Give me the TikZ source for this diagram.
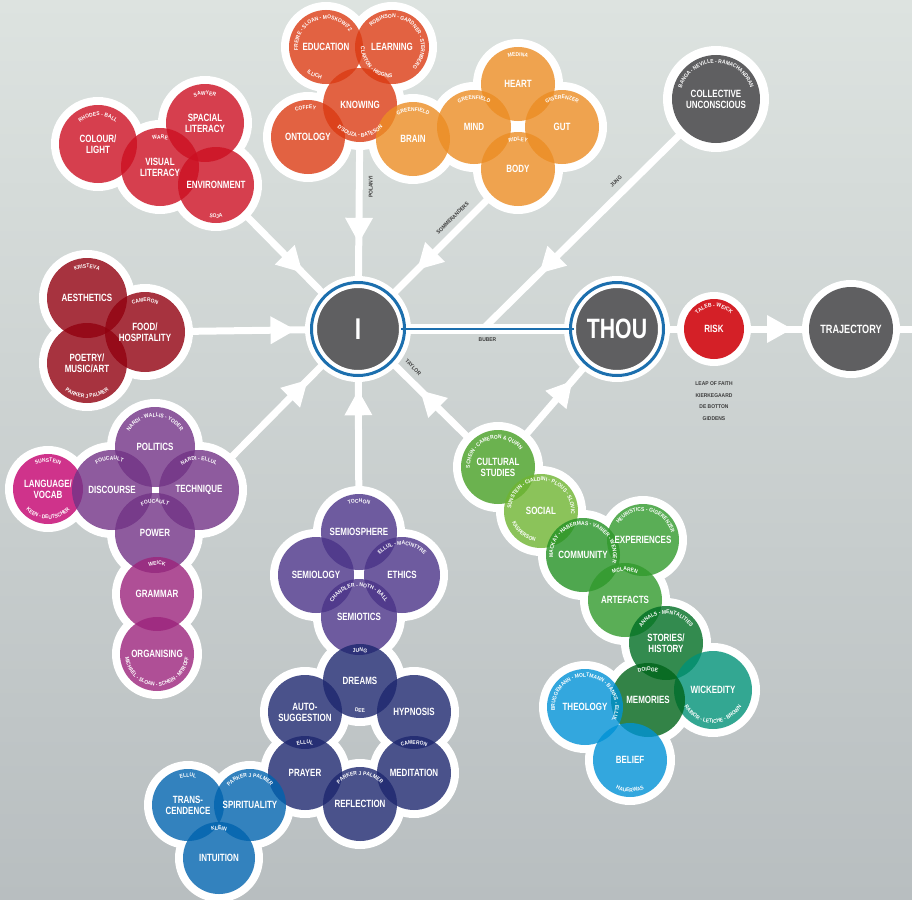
\documentclass[tikz,border=0pt]{standalone}
\usepackage{fontspec}
\newfontfamily\condfont{Liberation Sans}[FakeStretch=0.76]
\newfontfamily\notefont{Liberation Sans}[FakeStretch=0.9]
\usetikzlibrary{decorations.markings,decorations.text,arrows.meta}

\definecolor{bgtop}{HTML}{DDE3E0}
\definecolor{bgbot}{HTML}{B8BEC0}
\definecolor{coregray}{HTML}{5F5F61}
\definecolor{ringblue}{HTML}{1C6FAE}
\definecolor{riskred}{HTML}{D42027}
\definecolor{notegray}{HTML}{3C3C3C}
\definecolor{redA}{HTML}{CC1022}
\definecolor{redB}{HTML}{920110}
\definecolor{orangeA}{HTML}{DB3B13}
\definecolor{orangeB}{HTML}{EC8D24}
\definecolor{purpleA}{HTML}{723386}
\definecolor{plum}{HTML}{9C247C}
\definecolor{magenta}{HTML}{C4016F}
\definecolor{violet}{HTML}{4A3388}
\definecolor{navy}{HTML}{1D276F}
\definecolor{blueA}{HTML}{0063AE}
\definecolor{blueB}{HTML}{0092D6}
\definecolor{greenA}{HTML}{479F24}
\definecolor{greenB}{HTML}{6FB531}
\definecolor{greenC}{HTML}{249224}
\definecolor{greenD}{HTML}{319A2C}
\definecolor{greenE}{HTML}{006F24}
\definecolor{greenF}{HTML}{00651A}
\definecolor{teal}{HTML}{009277}

\pgfdeclarelayer{bg}
\pgfdeclarelayer{halo}
\pgfdeclarelayer{fills}
\pgfsetlayers{bg,halo,fills,main}

\newcommand{\bubfont}{\condfont\bfseries\fontsize{10.5}{11}\selectfont}
\newcommand{\notesize}{\notefont\bfseries\fontsize{5.5}{11.6}\selectfont}

% one bubble: name, x, y, radius, colour, text
\newcommand{\bubble}[6]{%
  \begin{pgfonlayer}{halo}\fill[white] (#2,#3) circle[radius=#4+8];\end{pgfonlayer}
  \begin{pgfonlayer}{fills}\fill[#5,fill opacity=0.8] (#2,#3) circle[radius=#4];\end{pgfonlayer}
  \node[bubtext,minimum size=2*#4] (#1) at (#2,#3) {#6};}

% curved names: node, radius, start angle, end angle, text
\newcommand{\arcnote}[5]{%
  \path[decorate,decoration={text along path,text align=center,text color=white,
    text={|\notesize|#5}}] (#1.center) ++(#3:#2) arc[start angle=#3,end angle=#4,radius=#2];}

\begin{document}
\begin{tikzpicture}
[x=1pt,y=1pt,
 bubtext/.style={circle,inner sep=0pt,text=white,font=\bubfont,align=center},
 core/.style={circle,inner sep=0pt,fill=coregray,text=white,align=center},
 note/.style={font=\notesize,text=notegray,inner sep=1pt,align=center},
 feed/.style={white,line width=7pt,postaction={decorate,decoration={markings,
   mark=at position #1 with {\arrow{Triangle[width=28pt,length=25pt,line width=0pt]}}}}}]

\useasboundingbox (0,0) rectangle (912,-899);
\begin{pgfonlayer}{bg}
\fill[top color=bgtop,bottom color=bgbot] (0,0) rectangle (912,-899);
\end{pgfonlayer}

% centre line
\node[core,draw=white,line width=2pt,minimum size=84pt,
  font=\condfont\bfseries\fontsize{30}{30}\selectfont] (I) at (358,-329) {I};
\node[core,draw=white,line width=2pt,minimum size=84pt,
  font=\condfont\bfseries\fontsize{28}{28}\selectfont] (THOU) at (617,-329) {THOU};
\node[core,fill=riskred,minimum size=60pt,font=\bubfont] (risk) at (714,-329) {RISK};
\node[core,minimum size=84pt,font=\condfont\bfseries\fontsize{12}{12}\selectfont]
  (trajectory) at (851,-329) {TRAJECTORY};
\node[core,minimum size=88pt,font=\bubfont] (collective) at (716,-99) {COLLECTIVE\\UNCONSCIOUS};
\coordinate (jungfoot) at (483,-329);
\coordinate (exit) at (912,-329);
\draw[ringblue,line width=3pt] (I.center) circle[radius=46.5];
\draw[ringblue,line width=3pt] (THOU.center) circle[radius=46.5];
\node[note] (leap) at (714,-401) {LEAP OF FAITH\\KIERKEGAARD\\DE BOTTON\\GIDDENS};

% visual
\bubble{colour}{98}{-144}{39}{redA}{COLOUR/\\LIGHT}
\bubble{spacial}{205}{-123}{39}{redA}{SPACIAL\\LITERACY}
\bubble{visual}{160}{-167}{39}{redA}{VISUAL\\LITERACY}
\bubble{environment}{216}{-185}{38}{redA}{ENVIRONMENT}
% knowing
\bubble{education}{326}{-47}{37}{orangeA}{EDUCATION}
\bubble{learning}{392}{-47}{37}{orangeA}{LEARNING}
\bubble{knowing}{360}{-105}{37}{orangeA}{KNOWING}
\bubble{ontology}{308}{-137}{37}{orangeA}{ONTOLOGY}
% body
\bubble{brain}{413}{-139}{37}{orangeB}{BRAIN}
\bubble{mind}{474}{-127}{37}{orangeB}{MIND}
\bubble{heart}{518}{-84}{37}{orangeB}{HEART}
\bubble{gut}{562}{-127}{37}{orangeB}{GUT}
\bubble{body}{518}{-169}{37}{orangeB}{BODY}
% aesthetics
\bubble{aesthetics}{87}{-298}{40}{redB}{AESTHETICS}
\bubble{food}{145}{-332}{40}{redB}{FOOD/\\HOSPITALITY}
\bubble{poetry}{87}{-363}{40}{redB}{POETRY/\\MUSIC/ART}
% politics
\bubble{language}{48}{-489}{35}{magenta}{LANGUAGE/\\VOCAB}
\bubble{politics}{155}{-447}{40}{purpleA}{POLITICS}
\bubble{discourse}{112}{-490}{40}{purpleA}{DISCOURSE}
\bubble{technique}{199}{-490}{40}{purpleA}{TECHNIQUE}
\bubble{power}{155}{-533}{40}{purpleA}{POWER}
\bubble{grammar}{157}{-594}{37}{plum}{GRAMMAR}
\bubble{organising}{157}{-654}{37}{plum}{ORGANISING}
% semiotics
\bubble{semiosphere}{359}{-532}{38}{violet}{SEMIOSPHERE}
\bubble{semiology}{316}{-575}{38}{violet}{SEMIOLOGY}
\bubble{ethics}{402}{-575}{38}{violet}{ETHICS}
\bubble{semiotics}{359}{-617}{38}{violet}{SEMIOTICS}
% dreams
\bubble{dreams}{360}{-681}{37}{navy}{DREAMS}
\bubble{autosugg}{305}{-712}{37}{navy}{AUTO-\\SUGGESTION}
\bubble{hypnosis}{414}{-712}{37}{navy}{HYPNOSIS}
\bubble{prayer}{305}{-773}{37}{navy}{PRAYER}
\bubble{meditation}{414}{-773}{37}{navy}{MEDITATION}
\bubble{reflection}{360}{-804}{37}{navy}{REFLECTION}
% spirituality
\bubble{trans}{188}{-805}{36}{blueA}{TRANS-\\CENDENCE}
\bubble{spirit}{250}{-805}{36}{blueA}{SPIRITUALITY}
\bubble{intuition}{219}{-858}{36}{blueA}{INTUITION}
% culture
\bubble{cultural}{498}{-467}{37}{greenA}{CULTURAL\\STUDIES}
\bubble{social}{541}{-511}{37}{greenB}{SOCIAL}
\bubble{community}{583}{-555}{37}{greenC}{COMMUNITY}
\bubble{experiences}{643}{-540}{36}{greenD}{EXPERIENCES}
\bubble{artefacts}{625}{-600}{37}{greenD}{ARTEFACTS}
\bubble{stories}{666}{-643}{37}{greenE}{STORIES/\\HISTORY}
\bubble{wickedity}{713}{-690}{39}{teal}{WICKEDITY}
\bubble{memories}{648}{-700}{37}{greenF}{MEMORIES}
\bubble{theology}{585}{-707}{38}{blueB}{THEOLOGY}
\bubble{belief}{630}{-760}{37}{blueB}{BELIEF}

% names round the bubbles
\arcnote{colour}{28}{170}{10}{RHODES - BALL}
\arcnote{spacial}{28}{150}{30}{SAWYER}
\arcnote{visual}{28}{150}{30}{WARE}
\arcnote{environment}{33}{230}{310}{SOJA}
\arcnote{education}{28}{200}{20}{FREIRE - SLOAN - MOSKOWITZ}
\arcnote{education}{32}{220}{275}{ILLICH}
\arcnote{learning}{29}{140}{-50}{ROBINSON - GARDNER - STERNBERG}
\arcnote{learning}{31}{150}{300}{CLAXTON - HIGGINS}
\arcnote{knowing}{32}{205}{335}{D'SOUZA - BATESON}
\arcnote{ontology}{28}{140}{50}{COFFEY}
\arcnote{brain}{28}{150}{30}{GREENFIELD}
\arcnote{mind}{28}{150}{30}{GREENFIELD}
\arcnote{heart}{28}{150}{30}{MEDINA}
\arcnote{gut}{28}{150}{30}{GIGERENZER}
\arcnote{body}{28}{150}{30}{RIDLEY}
\arcnote{collective}{36}{185}{-5}{BANGA - NEVILLE - RAMACHANDRAN}
\arcnote{aesthetics}{30}{150}{30}{KRISTEVA}
\arcnote{food}{30}{150}{30}{CAMERON}
\arcnote{poetry}{35}{205}{335}{PARKER J PALMER}
\arcnote{politics}{30}{165}{15}{NARDI - WALLIS - YODER}
\arcnote{discourse}{30}{140}{50}{FOUCAULT}
\arcnote{technique}{30}{150}{30}{NARDI - ELLUL}
\arcnote{power}{30}{150}{30}{FOUCAULT}
\arcnote{grammar}{29}{150}{30}{WEICK}
\arcnote{organising}{32}{165}{375}{MICHAEL - SLOAN - SCHEIN - MITROFF}
\arcnote{language}{27}{150}{30}{SUNSTEIN}
\arcnote{language}{30}{200}{340}{KEEN - DEUTSCHER}
\arcnote{semiosphere}{29}{150}{30}{TOCHON}
\arcnote{ethics}{30}{160}{20}{ELLUL - MACINTYRE}
\arcnote{semiotics}{30}{175}{5}{CHANDLER - NOTH - BALL}
\arcnote{dreams}{29}{150}{30}{JUNG}
\arcnote{dreams}{31}{240}{300}{DEE}
\arcnote{prayer}{29}{150}{30}{ELLUL}
\arcnote{meditation}{29}{150}{30}{CAMERON}
\arcnote{reflection}{29}{165}{15}{PARKER J PALMER}
\arcnote{trans}{28}{150}{30}{ELLUL}
\arcnote{spirit}{28}{165}{15}{PARKER J PALMER}
\arcnote{intuition}{28}{150}{30}{KLEIN}
\arcnote{cultural}{28}{200}{20}{SCHEIN - CAMERON {\&} QUINN}
\arcnote{social}{30}{210}{-40}{SUNSTEIN - CIALDINI - PLOUS - SLOVIC}
\arcnote{social}{31}{190}{270}{KASPERSON}
\arcnote{community}{30}{215}{-45}{MACKAY - HABERMAS - VANIER - WENGER}
\arcnote{experiences}{29}{170}{-10}{HEURISTICS - GIGERENZER}
\arcnote{artefacts}{29}{150}{30}{MCLAREN}
\arcnote{stories}{29}{175}{5}{ANNALS - MENTALITIES}
\arcnote{wickedity}{33}{170}{370}{RAINOR - LETICHE - BROWN}
\arcnote{memories}{29}{150}{30}{DOIDGE}
\arcnote{theology}{30}{220}{-60}{BRUGGEMANN - MOLTMANN - BANKS - ELLUL}
\arcnote{belief}{32}{230}{310}{HAUERWAS}
\arcnote{risk}{22}{150}{30}{TALEB - WEICK}

% halos and connectors
\begin{pgfonlayer}{halo}
\fill[white] (I.center) circle[radius=53];
\fill[white] (THOU.center) circle[radius=53];
\fill[white] (risk.center) circle[radius=37];
\fill[white] (trajectory.center) circle[radius=49];
\fill[white] (collective.center) circle[radius=53];
\draw[feed=0.7] (environment) -- (I);
\draw[feed=0.7] (knowing) -- node[note,sloped,below=5pt,pos=0.31] {POLANYI} (I);
\draw[feed=0.72] (body) -- node[note,sloped,above=5pt,pos=0.3] {SOMMERANDERS} (I);
\draw[feed=0.72] (collective) -- node[note,sloped,above=5pt,pos=0.3] {JUNG} (jungfoot);
\draw[feed=0.85] (food) -- (I);
\draw[feed=0.8] (technique) -- (I);
\draw[feed=0.85] (semiosphere) -- (I);
\draw[feed=0.62] (cultural) -- node[note,sloped,above=5pt,pos=0.8] {TAYLOR} (I);
\draw[feed=0.75] (cultural) -- (THOU);
\draw[feed=0.74] (risk) -- (trajectory);
\draw[white,line width=7pt] (trajectory) -- (exit);
\draw[white,line width=7pt] (THOU) -- (risk);
\draw[white,line width=10pt] (I) -- (THOU);
\draw[ringblue,line width=2.5pt] (I) -- node[note,below=6pt] {BUBER} (THOU);
\end{pgfonlayer}

\end{tikzpicture}
\end{document}
